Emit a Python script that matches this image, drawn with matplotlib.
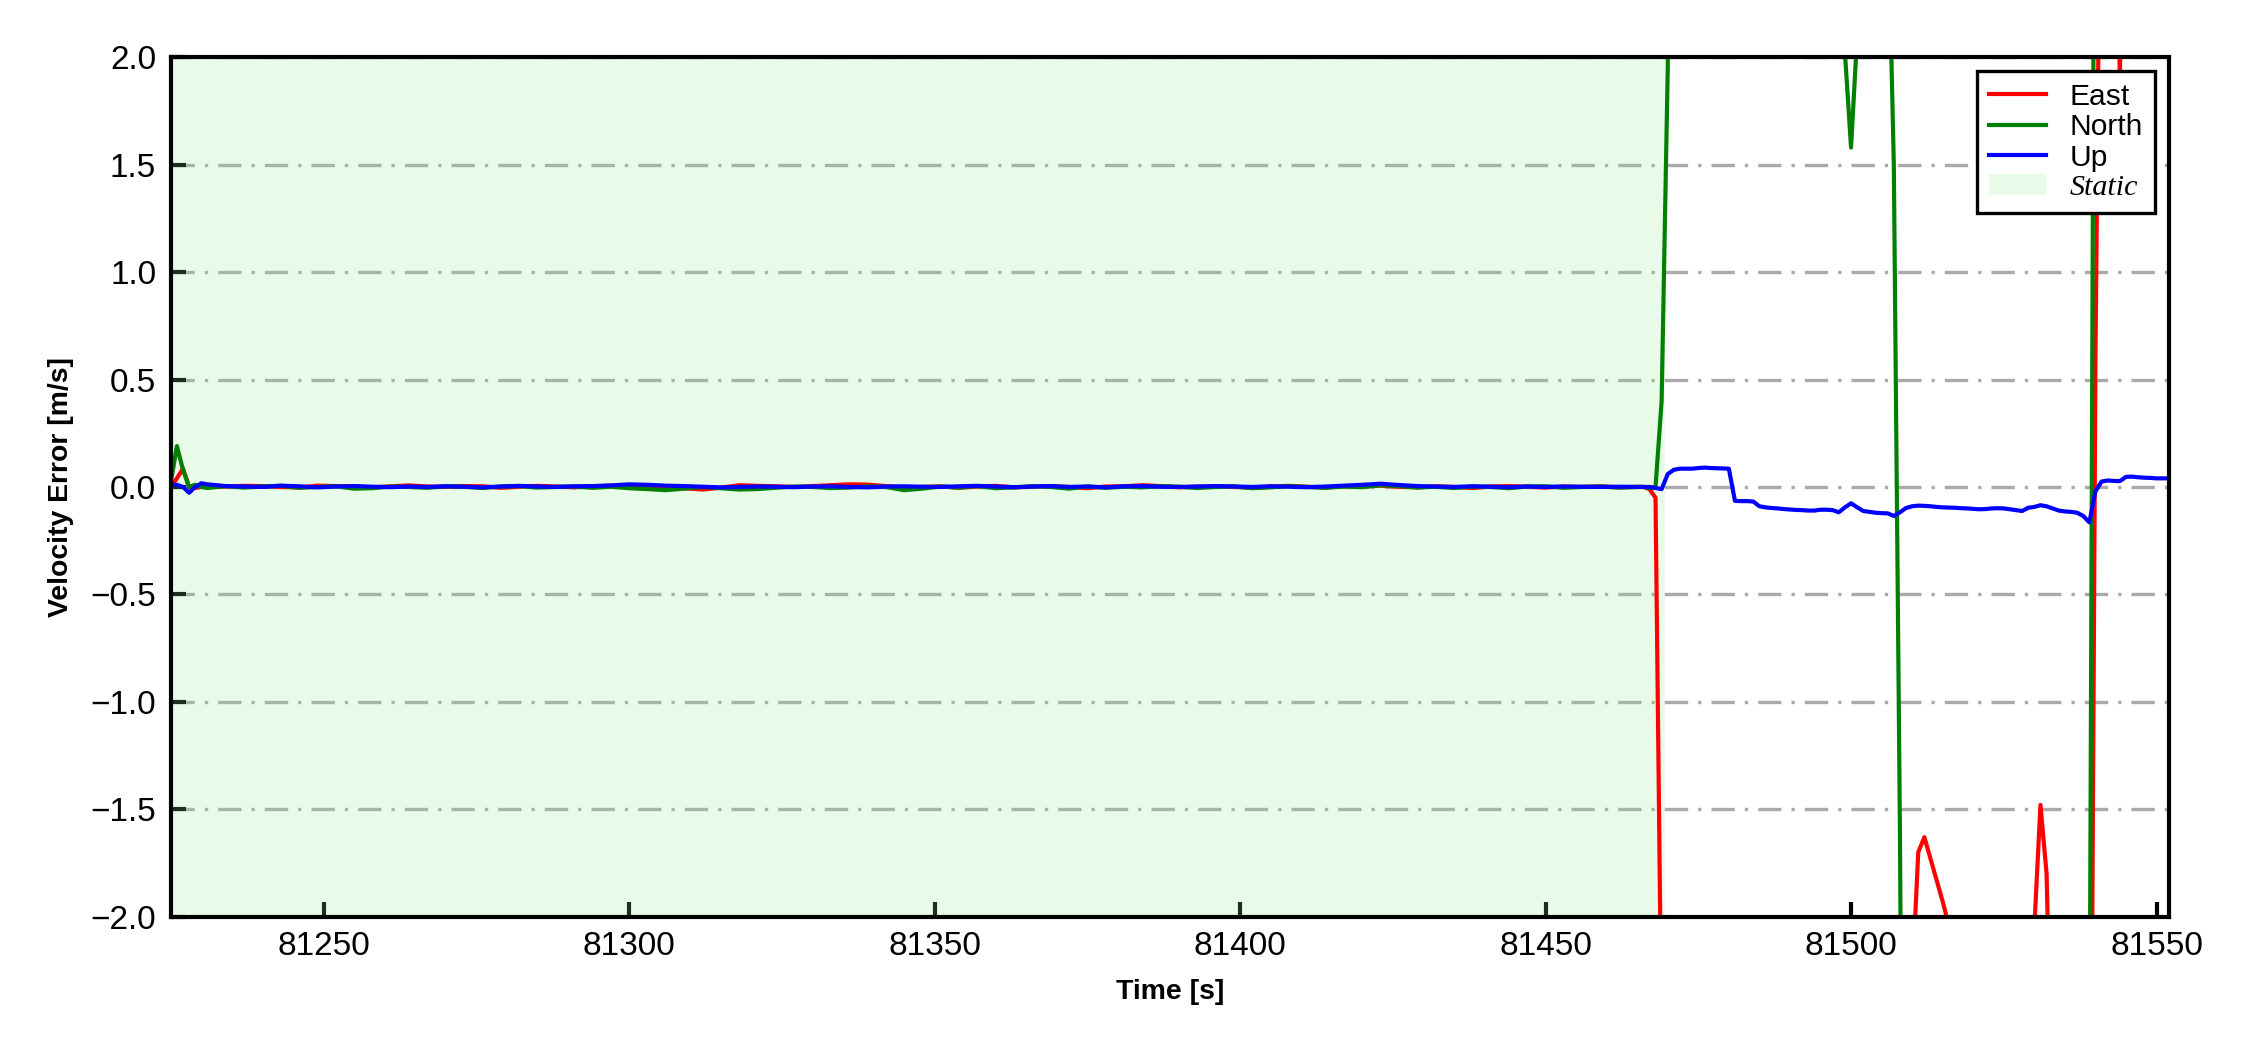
import matplotlib
matplotlib.use("Agg")
import matplotlib.pyplot as plt

plt.rcParams['font.family'] = ['Liberation Sans', 'DejaVu Sans']

# time axis (s): dense at start, every 3 s during static part, 1 s afterwards
TIME = (list(range(81225, 81232)) + list(range(81234, 81466, 3))
        + list(range(81466, 81553)))

STATIC_START, STATIC_END = 81225, 81469.5

# ---- static part (81225..81231, then 81234..81465 every 3 s)
EAST_STATIC = [
    0.0, 0.04, 0.085, 0.0, -0.005, 0.0, 0.002,
    0.002, 0.005, 0.004, 0.0, -0.003, 0.006, 0.004, 0.002, -0.002, 0.003,
    0.007, 0.002, 0.0, 0.004, 0.003, -0.004, 0.001, 0.005, 0.002, -0.002,
    0.003, 0.006, 0.0, -0.003, 0.002, -0.006, -0.012, -0.004, 0.008, 0.005,
    0.003, 0.0, 0.004, 0.008, 0.012, 0.011, 0.004, -0.003, 0.0, 0.003,
    -0.004, 0.002, 0.005, -0.002, 0.001, 0.004, 0.0, -0.006, 0.002, 0.003,
    0.008, 0.004, -0.002, 0.001, 0.003, 0.0, -0.004, 0.002, 0.005, 0.001,
    -0.003, 0.004, 0.002, 0.006, 0.001, -0.002, 0.003, 0.0, -0.005, 0.002,
    0.004, 0.001, -0.003, 0.002, 0.0, 0.003, -0.002, 0.0,
]
NORTH_STATIC = [
    0.02, 0.19, 0.08, 0.0, 0.01, 0.0, -0.005,
    0.004, -0.003, 0.002, 0.005, -0.004, 0.0, 0.003, -0.008, -0.006, 0.002,
    0.0, -0.004, 0.003, 0.001, -0.005, 0.002, 0.004, -0.003, 0.0, 0.002,
    -0.004, 0.001, -0.006, -0.01, -0.015, -0.008, 0.0, -0.006, -0.012, -0.01,
    -0.004, 0.002, 0.0, -0.005, -0.003, 0.003, 0.0, -0.015, -0.008, 0.002,
    -0.003, 0.004, -0.006, -0.002, 0.003, 0.0, -0.008, 0.002, -0.004, 0.001,
    -0.002, 0.004, 0.001, -0.005, 0.0, 0.003, -0.006, -0.002, 0.004, 0.0,
    -0.004, 0.002, -0.001, 0.008, 0.004, -0.003, 0.001, -0.005, 0.002, 0.0,
    -0.006, 0.002, 0.003, -0.004, 0.0, 0.002, -0.003, 0.0,
]
UP_STATIC = [
    0.01, 0.01, 0.0, -0.027, 0.0, 0.017, 0.012,
    0.004, 0.002, 0.0, 0.006, 0.003, -0.002, 0.002, 0.004, 0.001, -0.001,
    0.002, 0.0, 0.003, 0.001, -0.002, 0.002, 0.005, 0.002, 0.0, 0.003,
    0.004, 0.007, 0.012, 0.01, 0.006, 0.004, 0.001, -0.002, 0.0, 0.002,
    0.001, -0.001, 0.002, 0.003, 0.0, -0.002, 0.002, 0.003, 0.001, 0.0,
    0.003, 0.005, 0.002, -0.001, 0.002, 0.004, 0.0, 0.002, -0.002, 0.003,
    0.004, 0.001, 0.0, 0.002, 0.004, 0.002, 0.0, 0.003, 0.001, -0.001,
    0.002, 0.006, 0.01, 0.015, 0.009, 0.004, 0.002, 0.0, 0.003, 0.001,
    -0.001, 0.002, 0.0, 0.002, 0.001, 0.0, 0.001, 0.0,
]

# ---- dynamic part, 81466..81552 every 1 s
EAST_DYN = [
    0.0, -0.01, -0.05, -2.6, -6.0, -7.2, -8.0, -7.5, -6.8, -6.1,
    -5.9, -6.4, -7.0, -7.3, -6.9, -6.2, -5.5, -5.0, -4.8, -4.6,
    -4.9, -5.3, -5.8, -6.0, -5.7, -5.1, -4.6, -4.2, -4.0, -4.3,
    -4.7, -5.0, -4.8, -4.4, -4.0, -3.8, -3.9, -4.2, -4.5, -4.6,
    -4.3, -4.0, -3.7, -3.4, -2.3, -1.70, -1.63, -1.73, -1.83, -1.93,
    -2.04, -2.6, -3.1, -3.5, -3.8, -4.0, -3.9, -3.7, -3.5, -3.3,
    -3.1, -2.9, -2.8, -3.2, -2.05, -1.48, -1.80, -3.0, -3.6, -4.0,
    -4.3, -4.6, -4.8, -4.5, 0.6, 3.6, 4.0, 3.0, 1.92, 3.5,
    4.2, 4.6, 4.4, 4.1, 3.9, 4.0, 4.2,
]
NORTH_DYN = [
    0.0, -0.005, 0.0, 0.4, 1.95, 8.0, 9.5, 9.0, 8.2, 7.4,
    6.8, 6.2, 5.5, 5.0, 4.6, 4.2, 4.5, 4.9, 5.2, 4.8,
    4.3, 3.9, 3.6, 3.4, 3.7, 3.9, 3.6, 3.3, 3.0, 2.8,
    2.9, 2.7, 2.6, 2.02, 1.58, 2.1, 2.8, 3.3, 3.5, 3.1,
    2.75, 1.5, -1.6, -6.0, -8.5, -9.0, -8.2, -7.5, -7.0, -6.6,
    -6.2, -5.8, -5.5, -5.3, -5.6, -6.0, -6.3, -6.1, -5.8, -5.4,
    -5.0, -4.7, -4.5, -4.8, -5.2, -5.5, -5.1, -4.7, -4.3, -4.0,
    -3.8, -3.5, -3.3, -3.0, 4.5, 6.0, 6.5, 6.2, 5.8, 5.5,
    5.3, 5.1, 5.0, 4.8, 4.7, 4.6, 4.5,
]
UP_DYN = [
    0.0, 0.0, -0.005, -0.01, 0.06, 0.08, 0.085, 0.085, 0.085, 0.088,
    0.09, 0.088, 0.087, 0.086, 0.085, -0.065, -0.066, -0.066, -0.068, -0.09,
    -0.095, -0.098, -0.1, -0.103, -0.105, -0.107, -0.108, -0.11, -0.11, -0.106,
    -0.106, -0.108, -0.118, -0.095, -0.076, -0.095, -0.112, -0.116, -0.12, -0.122,
    -0.123, -0.135, -0.118, -0.098, -0.09, -0.087, -0.088, -0.09, -0.093, -0.095,
    -0.096, -0.097, -0.099, -0.1, -0.102, -0.104, -0.103, -0.1, -0.099, -0.1,
    -0.104, -0.108, -0.112, -0.097, -0.093, -0.085, -0.09, -0.1, -0.11, -0.114,
    -0.116, -0.12, -0.135, -0.165, -0.02, 0.025, 0.03, 0.028, 0.027, 0.047,
    0.048, 0.045, 0.043, 0.042, 0.04, 0.04, 0.04,
]

SERIES = [
    ("East", EAST_STATIC + EAST_DYN, "red"),
    ("North", NORTH_STATIC + NORTH_DYN, "green"),
    ("Up", UP_STATIC + UP_DYN, "blue"),
]


def main():
    fig = plt.figure(figsize=(7.5, 3.5), dpi=300)
    ax = fig.add_axes([0.0759, 0.127, 0.888, 0.8185])

    for name, vals, col in SERIES:
        ax.plot(TIME, vals, color=col, linewidth=1.0, label=name)
    ax.axvspan(STATIC_START, STATIC_END, color="lightgreen", alpha=0.2,
               linewidth=0, label="Static")

    ax.set_xlim(TIME[0], TIME[-1])
    ax.set_ylim(-2.0, 2.0)
    ax.set_yticks([-2.0, -1.5, -1.0, -0.5, 0.0, 0.5, 1.0, 1.5, 2.0])
    ax.set_xticks([81250, 81300, 81350, 81400, 81450, 81500, 81550])
    ax.ticklabel_format(axis="x", style="plain", useOffset=False)
    ax.tick_params(direction="in", labelsize=8, width=1.0, length=3.5)
    for sp in ax.spines.values():
        sp.set_linewidth(1.0)

    ax.set_axisbelow(True)
    ax.grid(True, axis="y", color="#aaaaaa", linewidth=0.8,
            linestyle=(0, (7, 3, 1, 3)))

    ax.set_xlabel("Time [s]", fontsize=6.8, fontweight="bold")
    ax.set_ylabel("Velocity Error [m/s]", fontsize=6.8, fontweight="bold")

    leg = ax.legend(loc="upper right", fontsize=7.2, fancybox=False,
                    edgecolor="black", framealpha=1.0, labelspacing=0.08,
                    borderaxespad=0.45, handlelength=1.9, handletextpad=0.8)
    leg.get_frame().set_linewidth(0.8)
    leg.get_texts()[3].set_fontfamily("Liberation Serif")
    leg.get_texts()[3].set_fontstyle("italic")

    fig.savefig("out.png", dpi=300)
    plt.close(fig)


if __name__ == "__main__":
    main()
